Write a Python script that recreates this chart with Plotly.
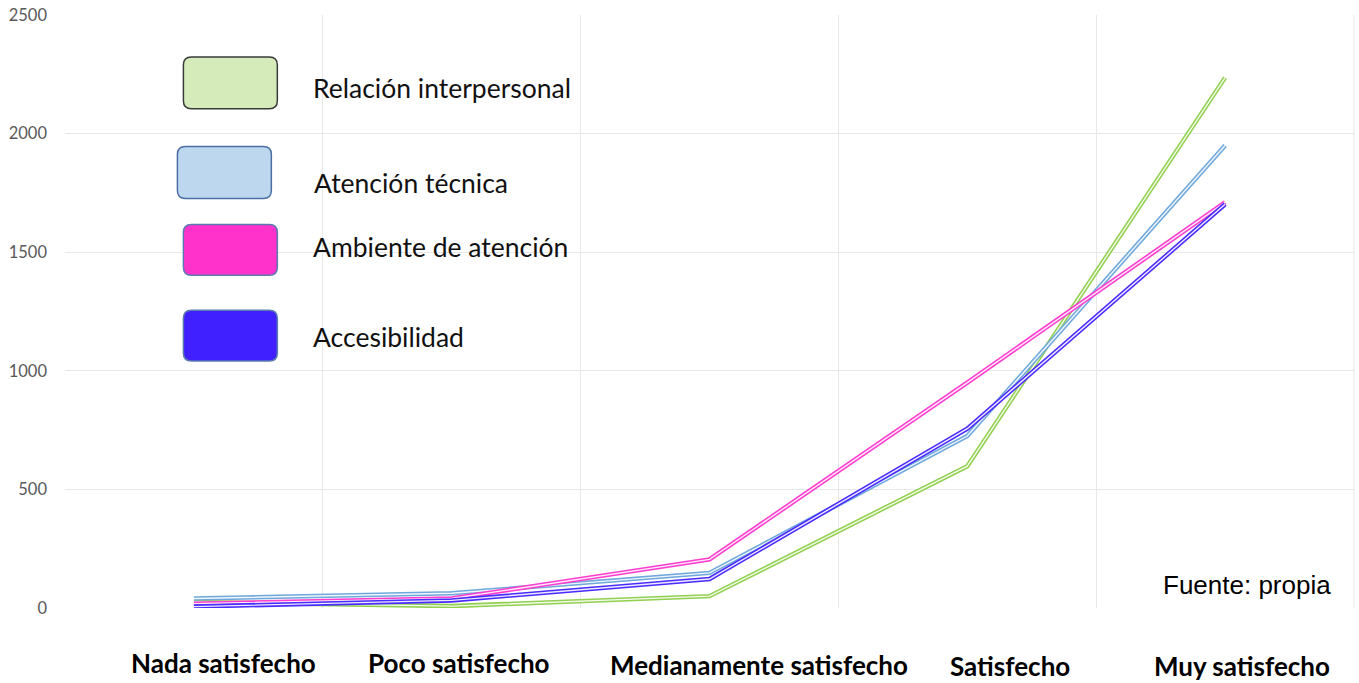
import plotly.graph_objects as go

categories = ["Nada satisfecho", "Poco satisfecho", "Medianamente satisfecho", "Satisfecho", "Muy satisfecho"]
relacion = [25, 8, 50, 598, 2236]
atencion = [40, 62, 148, 725, 1950]
ambiente = [18, 40, 205, 950, 1710]
accesibilidad = [6, 32, 122, 756, 1702]
series_names = ["Relación interpersonal", "Atención técnica", "Ambiente de atención", "Accesibilidad"]
y_ticks = [0, 500, 1000, 1500, 2000, 2500]

W, H = 1359, 683
L, R, T, B = 64.5, 1354.5, 13, 607.7

def px(x):
    return (x - L) / (R - L)

def py(y):
    return (B - y) / (B - T)

colors = ["#92d050", "#6fa8dc", "#ff3ccf", "#4a2cff"]
fig = go.Figure()
xs = list(range(len(categories)))
for name, vals, c in zip(series_names, [relacion, atencion, ambiente, accesibilidad], colors):
    fig.add_trace(go.Scatter(x=xs, y=vals, mode="lines", name=name,
                             line=dict(color=c, width=4.5), showlegend=False, hoverinfo="skip"))
    fig.add_trace(go.Scatter(x=xs, y=vals, mode="lines", name=name,
                             line=dict(color="rgba(255,255,255,0.9)", width=1.4), showlegend=False))

shapes = []
def rrect(x0, y0, x1, y1, r, fill, line):
    path = (f"M {px(x0+r)},{py(y0)} L {px(x1-r)},{py(y0)} Q {px(x1)},{py(y0)} {px(x1)},{py(y0+r)} "
            f"L {px(x1)},{py(y1-r)} Q {px(x1)},{py(y1)} {px(x1-r)},{py(y1)} "
            f"L {px(x0+r)},{py(y1)} Q {px(x0)},{py(y1)} {px(x0)},{py(y1-r)} "
            f"L {px(x0)},{py(y0+r)} Q {px(x0)},{py(y0)} {px(x0+r)},{py(y0)} Z")
    shapes.append(dict(type="path", xref="paper", yref="paper", path=path,
                       fillcolor=fill, line=dict(color=line, width=1.5), layer="above"))

rrect(183, 55, 277, 107, 8, "#d5ecba", "#3a3a3a")
rrect(177, 145, 271, 197, 8, "#bdd7ee", "#4a6fa5")
rrect(183, 223, 277, 274, 8, "#ff33cc", "#5a7ab0")
rrect(183, 309, 277, 360, 8, "#4020ff", "#5a7ab0")

annotations = []
legend_pos = [(311, 86), (312, 181), (311, 246), (311, 336)]
for name, (x, y) in zip(series_names, legend_pos):
    annotations.append(dict(text=name, xref="paper", yref="paper", x=px(x), y=py(y),
                            xanchor="left", yanchor="middle", showarrow=False,
                            font=dict(family="Lato", size=26.5, color="#111")))

label_pos = [(223, 663), (459, 663), (759, 665), (1010, 666), (1242, 666)]
for cat, (x, y) in zip(categories, label_pos):
    annotations.append(dict(text=f"<b>{cat}</b>", xref="paper", yref="paper", x=px(x), y=py(y),
                            xanchor="center", yanchor="middle", showarrow=False,
                            font=dict(family="Lato", size=26, color="#000")))

annotations.append(dict(text="Fuente: propia", xref="paper", yref="paper", x=px(1333), y=py(585),
                        xanchor="right", yanchor="middle", showarrow=False,
                        font=dict(family="Liberation Sans", size=26, color="#000")))

fig.update_layout(
    width=W, height=H,
    margin=dict(l=L, r=W - R, t=T, b=H - B),
    paper_bgcolor="white", plot_bgcolor="white",
    shapes=shapes, annotations=annotations,
    xaxis=dict(range=[-0.5, 4.5], tickvals=[-0.5, 0.5, 1.5, 2.5, 3.5, 4.5], ticktext=[""] * 6,
               showgrid=True, gridcolor="#e8e8e8", gridwidth=1, zeroline=False, showline=False,
               fixedrange=True),
    yaxis=dict(range=[0, 2500], tickvals=y_ticks, ticktext=[str(v) for v in y_ticks],
               showgrid=True, gridcolor="#e8e8e8", gridwidth=1, zeroline=False, showline=False,
               tickfont=dict(family="Lato", size=16.5, color="#595959"), ticks="", ticklabelstandoff=17),
    showlegend=False,
)
fig.add_shape(type="line", xref="paper", yref="paper", x0=1, x1=1, y0=0, y1=1,
              line=dict(color="#e8e8e8", width=1), layer="below")
fig.write_html("out.html")
